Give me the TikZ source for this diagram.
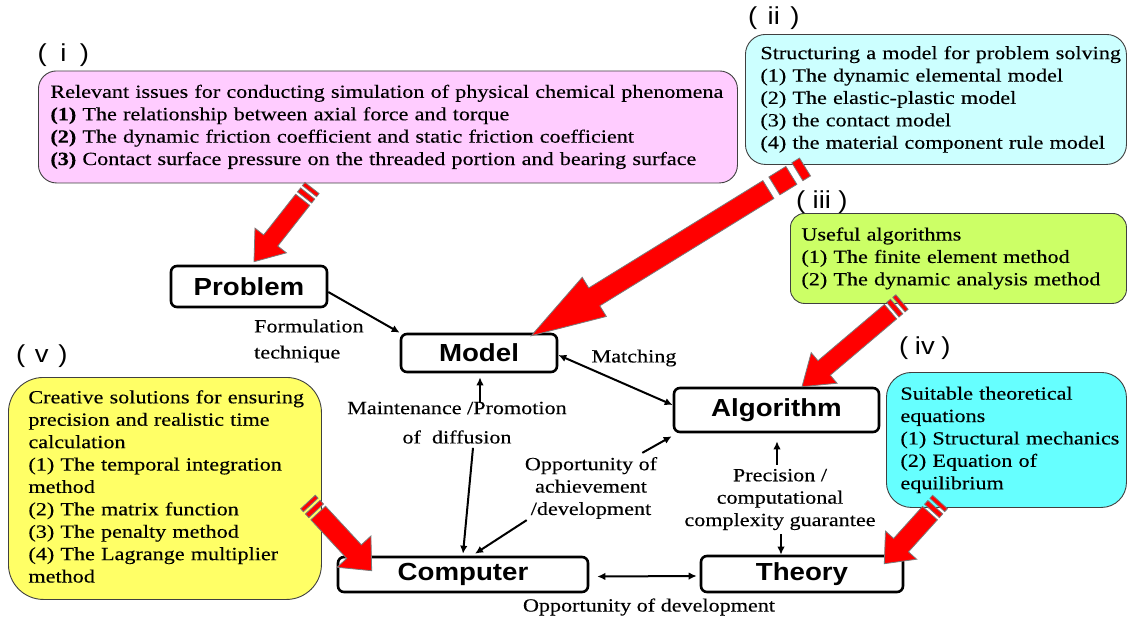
\documentclass[tikz,border=0pt]{standalone}
\usepackage{fontspec}
\setmainfont{Liberation Serif}[FakeStretch=1.19, FakeBold=0.25]
\newfontfamily\labfont{Liberation Sans}[FakeStretch=1.12]
\usetikzlibrary{calc,arrows.meta}
\definecolor{pinkbox}{HTML}{FFCCFF}
\definecolor{cyanbox}{HTML}{CCFFFF}
\definecolor{greenbox}{HTML}{CCFF66}
\definecolor{aquabox}{HTML}{66FFFF}
\definecolor{yellowbox}{HTML}{FFFF66}
\definecolor{boxline}{HTML}{404040}
\definecolor{arrowline}{HTML}{7A7A7A}
\definecolor{arrowred}{HTML}{FF0000}
\newcommand\boxlines[1]{\begin{tabular}{@{}l@{}}#1\end{tabular}}
\newcommand\romanlab[1]{(\makebox[33pt]{#1})}
% tail, tip, shaft half width, head half width, head length, bar1 end, bar2 start, bar2 end, shaft start
\newcommand\redarrow[9]{%
  \coordinate (ra-a) at ($(#1)!#6!(#2)$);
  \coordinate (ra-b) at ($(#1)!#7!(#2)$);
  \coordinate (ra-c) at ($(#1)!#8!(#2)$);
  \coordinate (ra-d) at ($(#1)!#9!(#2)$);
  \coordinate (ra-e) at ($(#2)!#5!(#1)$);
  \filldraw[redblock] ($(#1)!#3!90:(#2)$) -- ($(ra-a)!#3!90:(#2)$) -- ($(ra-a)!#3!-90:(#2)$) -- ($(#1)!#3!-90:(#2)$) -- cycle;
  \filldraw[redblock] ($(ra-b)!#3!90:(#2)$) -- ($(ra-c)!#3!90:(#2)$) -- ($(ra-c)!#3!-90:(#2)$) -- ($(ra-b)!#3!-90:(#2)$) -- cycle;
  \filldraw[redblock] ($(ra-d)!#3!90:(#2)$) -- ($(ra-e)!#3!90:(#2)$) -- ($(ra-e)!#4!90:(#2)$) -- (#2) -- ($(ra-e)!#4!-90:(#2)$) -- ($(ra-e)!#3!-90:(#2)$) -- ($(ra-d)!#3!-90:(#2)$) -- cycle;
}
\begin{document}
\begin{tikzpicture}[x=1pt,y=-1pt,
  infobox/.style={draw=boxline, line width=0.9pt, anchor=north west, align=left,
    font=\fontsize{18.6pt}{22.4pt}\selectfont, inner ysep=0pt},
  mainnode/.style={draw=black, fill=white, line width=2.6pt, rounded corners=6pt,
    font=\labfont\bfseries\fontsize{24.7pt}{28pt}\selectfont, inner sep=0pt},
  romannum/.style={anchor=west, inner sep=0pt, font=\labfont\fontsize{24.5pt}{28pt}\selectfont},
  lbl/.style={inner sep=0pt, font=\fontsize{18.6pt}{22.4pt}\selectfont},
  conn/.style={draw=black, line width=2pt, -{Latex[length=8pt,width=7.5pt]}},
  conn2/.style={draw=black, line width=2pt, {Latex[length=8pt,width=7.5pt]}-{Latex[length=8pt,width=7.5pt]}},
  redblock/.style={fill=arrowred, draw=arrowline, line width=0.8pt, line join=miter}
]
\fill[white] (0,0) rectangle (1128,621);
\useasboundingbox (0,0) rectangle (1128,621);

% information boxes
\node[infobox, fill=pinkbox, rounded corners=18pt, minimum width=699pt, minimum height=112pt,
  inner xsep=12pt, text width=675pt] (boxi) at (38,70.5) {\boxlines{Relevant issues for conducting simulation of physical chemical phenomena\\
\textbf{(1)} The relationship between axial force and torque\\
\textbf{(2)} The dynamic friction coefficient and static friction coefficient\\
\textbf{(3)} Contact surface pressure on the threaded portion and bearing surface}};

\node[infobox, fill=cyanbox, rounded corners=20pt, minimum width=381pt, minimum height=130pt,
  inner xsep=15pt, text width=351pt] (boxii) at (745,34) {\boxlines{Structuring a model for problem solving\\
(1) The dynamic elemental model\\
(2) The elastic-plastic model\\
(3) the contact model\\
(4) the material component rule model}};

\node[infobox, fill=greenbox, rounded corners=14pt, minimum width=336pt, minimum height=90pt,
  inner xsep=11pt, text width=314pt] (boxiii) at (790,213) {\boxlines{Useful algorithms\\
(1) The finite element method\\
(2) The dynamic analysis method}};

\node[infobox, fill=aquabox, rounded corners=25pt, minimum width=240pt, minimum height=135pt,
  inner xsep=14pt, text width=212pt] (boxiv) at (886,372) {\boxlines{Suitable theoretical\\
equations\\
(1) Structural mechanics\\
(2) Equation of\\
equilibrium}};

\node[infobox, fill=yellowbox, rounded corners=35pt, minimum width=313pt, minimum height=222pt,
  inner xsep=20pt, text width=273pt] (boxv) at (8,377) {\boxlines{Creative solutions for ensuring\\
precision and realistic time\\
calculation\\
(1) The temporal integration\\
method\\
(2) The matrix function\\
(3) The penalty method\\
(4) The Lagrange multiplier\\
method}};

% roman numerals
\node[romannum] (ri) at (37.5,55) {\romanlab{i}};
\node[romannum] (rii) at (748,18) {\romanlab{ii}};
\node[romannum] (riii) at (796,202) {\romanlab{iii}};
\node[romannum] (riv) at (899,348) {\romanlab{iv}};
\node[romannum] (rv) at (16,356) {\romanlab{v}};

% main nodes
\node[mainnode, minimum width=156pt, minimum height=41pt] (problem) at (249,286.5) {Problem};
\node[mainnode, minimum width=156pt, minimum height=38pt] (model) at (479,353) {Model};
\node[mainnode, minimum width=205pt, minimum height=44pt] (algorithm) at (776.5,410) {Algorithm};
\node[mainnode, minimum width=250pt, minimum height=35pt] (computer) at (463,574.5) {Computer};
\node[mainnode, minimum width=202pt, minimum height=36pt] (theory) at (802,574) {Theory};

% labels
\node[lbl, anchor=west] (form1) at (254,326) {Formulation};
\node[lbl, anchor=west] (form2) at (254,354) {technique};
\node[lbl] (match) at (634,358) {Matching};
\node[lbl] (maint1) at (457,408) {Maintenance /Promotion};
\node[lbl] (maint2) at (457,437) {of\ \ diffusion};
\node[lbl, align=center] (opp) at (591,488) {Opportunity of\\achievement\\/development};
\node[lbl, align=center] (prec) at (780,499.5) {Precision /\\computational\\complexity guarantee};
\node[lbl] (oppdev) at (649,607) {Opportunity of development};

% connectors
\draw[conn] ([yshift=-5.5pt]problem.east) -- (model.north west);
\draw[conn2] ([yshift=-2pt]model.east) -- ([yshift=5pt]algorithm.west);
\draw[conn] ([xshift=1pt]model.south |- maint1.north) -- ([xshift=1pt,yshift=-4pt]model.south);
\draw[conn] ([xshift=16pt,yshift=-4pt]maint2.south) -- ([yshift=2pt]computer.north);
\draw[conn] ([xshift=2pt,yshift=-1pt]opp.south west) -- ([xshift=12pt,yshift=2pt]computer.north);
\draw[conn] ([xshift=-15pt,yshift=4pt]opp.north east) -- ([xshift=-1pt,yshift=-3pt]algorithm.south west);
\draw[conn] ([xshift=-3pt,yshift=4pt]prec.north) -- ([xshift=0.5pt,yshift=-8pt]algorithm.south);
\draw[conn] ([xshift=1pt,yshift=-4pt]prec.south) -- ([xshift=1pt]prec.south |- theory.north);
\draw[conn2] ([xshift=8pt,yshift=-2pt]computer.east) -- ([xshift=-3pt,yshift=-2pt]theory.west);

% red block arrows
\coordinate (t1) at (312,188);
\coordinate (p1) at ([xshift=5pt,yshift=3pt]problem.north);
\coordinate (t2) at (805,167);
\coordinate (p2) at ([xshift=-27pt,yshift=-3pt]model.north east);
\coordinate (t3) at (902,302);
\coordinate (p3) at ([xshift=25.5pt]algorithm.north);
\coordinate (t4) at (940,502);
\coordinate (p4) at ([xshift=-20pt,yshift=-9pt]theory.north east);
\coordinate (t5) at (308,502);
\coordinate (p5) at ([xshift=35pt,yshift=-15pt]computer.north west);
\redarrow{t1}{p1}{9pt}{20pt}{27pt}{4pt}{7pt}{12pt}{15pt}
\redarrow{t2}{p2}{10.5pt}{23pt}{74pt}{9pt}{16pt}{36pt}{43pt}
\redarrow{t3}{p3}{9.5pt}{20pt}{29pt}{4pt}{7pt}{12pt}{15pt}
\redarrow{t4}{p4}{10pt}{21pt}{25pt}{4pt}{7pt}{12pt}{15pt}
\redarrow{t5}{p5}{10pt}{23pt}{26pt}{4pt}{7pt}{12pt}{15pt}
\end{tikzpicture}
\end{document}
